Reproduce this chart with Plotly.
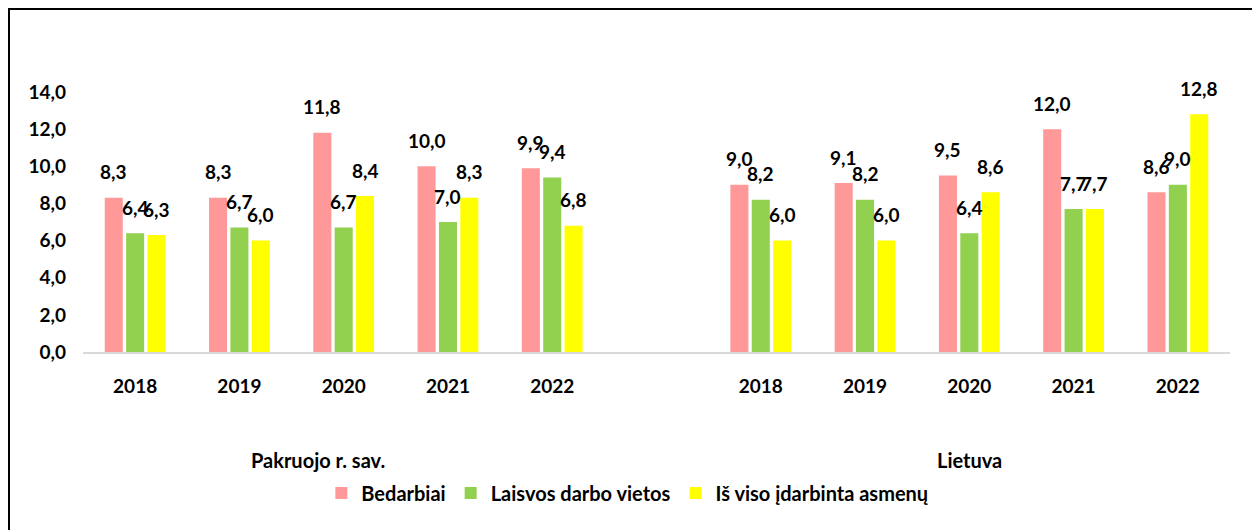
import plotly.graph_objects as go

years = ["2018", "2019", "2020", "2021", "2022"]
regions = ["Pakruojo r. sav.", "Lietuva"]
series_names = ["Bedarbiai", "Laisvos darbo vietos", "Iš viso įdarbinta asmenų"]
colors = ["#FF9999", "#92D050", "#FFFF00"]

bedarbiai = [8.3, 8.3, 11.8, 10.0, 9.9, 9.0, 9.1, 9.5, 12.0, 8.6]
laisvos = [6.4, 6.7, 6.7, 7.0, 9.4, 8.2, 8.2, 6.4, 7.7, 9.0]
idarbinta = [6.3, 6.0, 8.4, 8.3, 6.8, 6.0, 6.0, 8.6, 7.7, 12.8]
y_ticks = [0, 2, 4, 6, 8, 10, 12, 14]

FONT = "Lato, Carlito, Calibri, Liberation Sans, sans-serif"
NUM = dict(family=FONT, size=19, color="#000000", weight="bold")
TXT = dict(family=FONT, size=20, color="#000000", weight="bold")

# x positions: one empty category between the two regions
n = len(years)
xpos = list(range(n)) + [n + 1 + i for i in range(n)]
ticktext = years + years

bargap = 0.385
bargroupgap = 0.156

W, H = 1252, 522
ML, MR, MT, MB = 75, 30, 84, 178
PW, PH = W - ML - MR, H - MT - MB

fig = go.Figure()
all_vals = [bedarbiai, laisvos, idarbinta]
for name, vals, c in zip(series_names, all_vals, colors):
    fig.add_trace(go.Bar(x=xpos, y=vals, name=name, marker=dict(color=c, line=dict(width=0)),
                         hoverinfo="y"))

# data labels
slot = (1 - bargap) / 3
annotations = []
for j, vals in enumerate(all_vals):
    for xi, v in zip(xpos, vals):
        annotations.append(dict(
            x=xi + (j - 1) * slot, y=v, xref="x", yref="y",
            text=f"{v:.1f}".replace(".", ","), showarrow=False,
            yanchor="middle", yshift=26, font=NUM))

# region labels
for label, px in zip(regions, [0.205, 0.773]):
    annotations.append(dict(x=px, y=-0.415, xref="paper", yref="paper", text=label,
                            showarrow=False, xanchor="center", yanchor="middle", font=TXT))

fig.update_layout(
    width=W, height=H,
    margin=dict(l=ML, r=MR, t=MT, b=MB),
    paper_bgcolor="white", plot_bgcolor="white",
    barmode="group", bargap=bargap, bargroupgap=bargroupgap,
    separators=", ",
    font=TXT,
    showlegend=True,
    legend=dict(orientation="h", x=0.475, xanchor="center", y=-0.542, yanchor="middle",
                font=TXT, itemwidth=30, traceorder="normal"),
    annotations=annotations,
    shapes=[dict(type="rect", xref="paper", yref="paper",
                 x0=(1 - ML) / PW, x1=(W - 1.5 - ML) / PW,
                 y0=-0.75, y1=(MT + PH - 1) / PH,
                 line=dict(color="#000000", width=2), fillcolor="rgba(0,0,0,0)", layer="above")],
)

fig.update_xaxes(range=[-0.5, 2 * n + 0.5], tickmode="array", tickvals=xpos, ticktext=ticktext,
                 showgrid=False, zeroline=False, showline=True, linecolor="#D9D9D9", linewidth=2,
                 ticks="", ticklabelstandoff=16, tickfont=NUM)
fig.update_yaxes(range=[0, 14], tickmode="array", tickvals=y_ticks, tickformat=".1f",
                 showgrid=False, zeroline=False, showline=False, ticks="", ticklabelstandoff=16,
                 tickfont=NUM)

fig.write_html("out.html")
